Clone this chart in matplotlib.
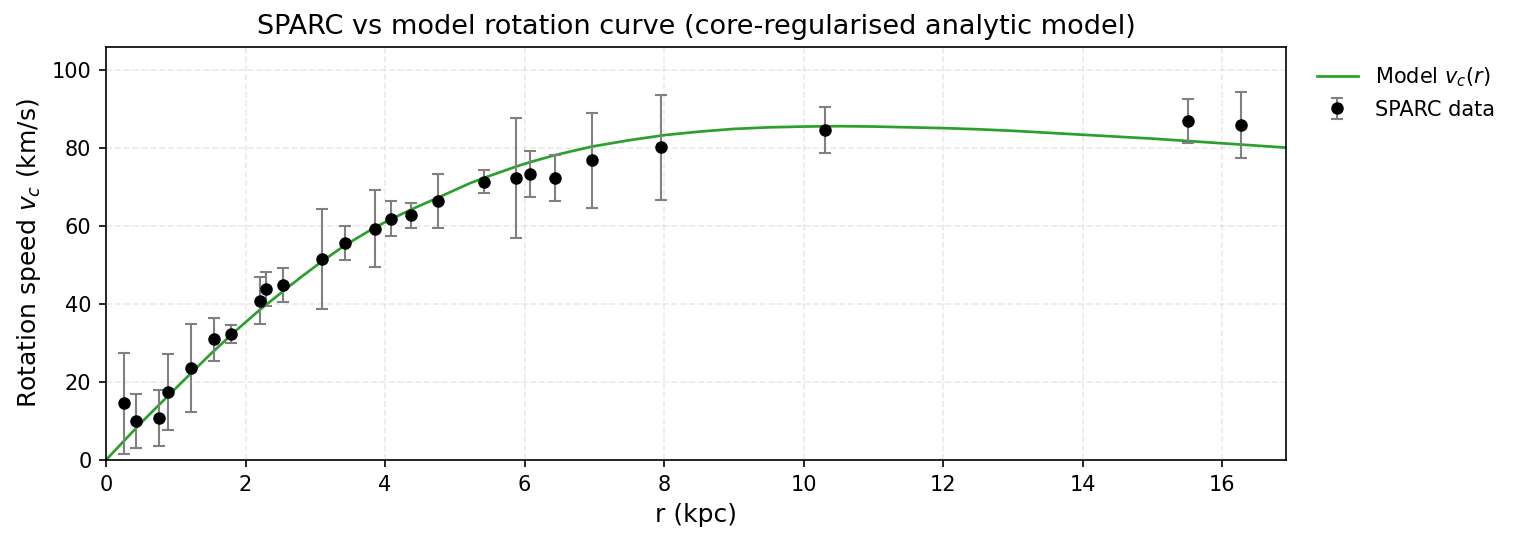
import numpy as np
import matplotlib
matplotlib.use("Agg")
import matplotlib.pyplot as plt

# SPARC points
r_data = [0.26, 0.43, 0.76, 0.89, 1.22, 1.55, 1.79, 2.21, 2.30, 2.54,
          3.10, 3.43, 3.86, 4.09, 4.37, 4.76, 5.41, 5.87, 6.08, 6.44,
          6.97, 7.96, 10.31, 15.50, 16.27]
v_data = [14.5, 9.9, 10.7, 17.4, 23.5, 30.9, 32.2, 40.8, 43.8, 44.8,
          51.6, 55.7, 59.3, 61.9, 62.8, 66.5, 71.4, 72.4, 73.3, 72.3,
          76.9, 80.2, 84.6, 87.0, 85.9]
v_err = [13.0, 6.9, 7.2, 9.7, 11.3, 5.4, 2.3, 6.0, 4.3, 4.4,
         12.8, 4.4, 9.9, 4.5, 3.2, 6.9, 2.9, 15.4, 5.9, 5.9,
         12.2, 13.5, 6.0, 5.6, 8.5]

# model curve
r_model = [0, 0.5, 1.0, 1.5, 1.87, 2.21, 2.54, 2.78, 3.10, 3.42, 3.85,
           4.09, 4.37, 4.76, 5.22, 5.41, 5.87, 6.08, 6.44, 6.97, 7.50,
           8.0, 8.5, 9.0, 9.5, 10.0, 10.5, 11.0, 11.5, 12.0, 12.5,
           13.0, 13.5, 14.0, 14.5, 15.0, 15.5, 16.0, 16.5, 16.91]
v_model = [0, 9.5, 18.4, 27.2, 33.3, 38.6, 43.3, 46.7, 51.0, 55.0, 59.6,
           61.8, 64.2, 67.3, 71.0, 72.3, 75.2, 76.4, 78.2, 80.4, 82.0,
           83.3, 84.2, 84.9, 85.3, 85.5, 85.6, 85.5, 85.3, 85.1, 84.8,
           84.4, 83.9, 83.4, 82.9, 82.4, 81.8, 81.2, 80.6, 80.1]

fig = plt.figure(figsize=(1517 / 150, 542 / 150), dpi=150)
ax = fig.add_axes([106 / 1517, 1 - 460 / 542, (1286 - 106) / 1517, (460 - 47) / 542])

ax.plot(r_model, v_model, color='#2ca02c', lw=1.3, label=r'Model $v_c(r)$', zorder=2)
ax.errorbar(r_data, v_data, yerr=v_err, fmt='o', color='black', ms=5,
            ecolor='gray', elinewidth=1, capsize=3, label='SPARC data', zorder=3)

ax.set_xlim(0, 16.91)
ax.set_ylim(0, 105.9)
ax.set_xlabel('r (kpc)', fontsize=12)
ax.set_ylabel(r'Rotation speed $v_c$ (km/s)', fontsize=12)
ax.set_title('SPARC vs model rotation curve (core-regularised analytic model)', fontsize=13)
ax.grid(True, ls='--', alpha=0.25)
ax.legend(loc='upper left', bbox_to_anchor=(1.01, 1.0), frameon=False, fontsize=10)

fig.savefig('out.png', dpi=150)
